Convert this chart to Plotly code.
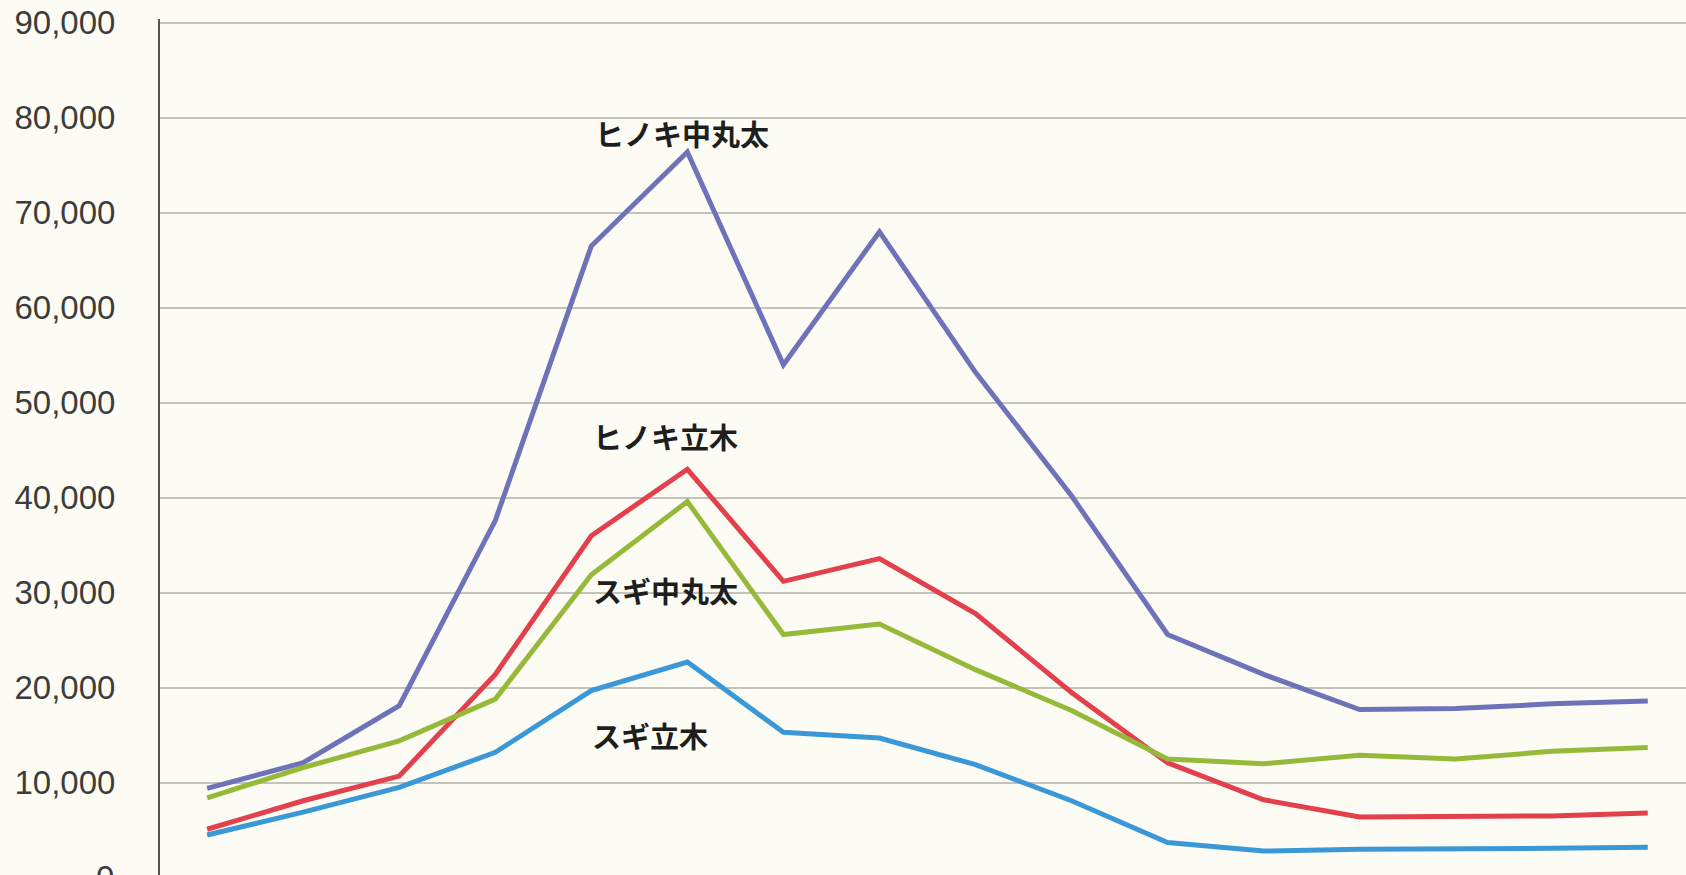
import plotly.graph_objects as go

# category positions (x-axis labels are cropped off in the reference)
periods = list(range(16))

series_names = ["ヒノキ中丸太", "ヒノキ立木", "スギ中丸太", "スギ立木"]

hinoki_maruta = [9400, 12100, 18100, 37600, 66500, 76400, 54000, 68000,
                 53200, 40200, 25600, 21400, 17700, 17800, 18300, 18600]
hinoki_ryuboku = [5100, 8100, 10700, 21400, 36000, 43000, 31200, 33600,
                  27800, 19500, 12100, 8200, 6400, 6400, 6500, 6800]
sugi_maruta = [8400, 11600, 14400, 18800, 31900, 39600, 25600, 26700,
               21900, 17600, 12500, 12000, 12900, 12500, 13300, 13700]
sugi_ryuboku = [4500, 6900, 9500, 13200, 19700, 22700, 15300, 14700,
                11900, 8100, 3700, 2800, 3000, 3000, 3100, 3200]

y_ticks = list(range(10000, 90001, 10000))
Y_MIN, Y_MAX = 284, 90400

colors = ["#6e72b9", "#e2404c", "#97b93a", "#3b98d6"]
values = [hinoki_maruta, hinoki_ryuboku, sugi_maruta, sugi_ryuboku]

fig = go.Figure()
for name, vals, c in zip(series_names, values, colors):
    fig.add_trace(go.Scatter(x=periods, y=vals, mode="lines", name=name,
                             line=dict(color=c, width=5), cliponaxis=False))

# series labels placed next to their lines
label_pos = {
    "ヒノキ中丸太": (4.94, 78450),
    "ヒノキ立木": (4.77, 46480),
    "スギ中丸太": (4.77, 30260),
    "スギ立木": (4.61, 15000),
}
for name in series_names:
    lx, ly = label_pos[name]
    fig.add_annotation(x=lx, y=ly, xref="x", yref="y", text=name, showarrow=False,
                       xanchor="center", yanchor="middle",
                       font=dict(family="Noto Sans CJK JP", size=29, color="#1e1e1e", weight="bold"))

# the "0" tick label, mostly cropped at the bottom edge (placed in paper coords at value 0)
fig.add_annotation(x=-0.0291, y=(0 - Y_MIN) / (Y_MAX - Y_MIN), xref="paper", yref="paper",
                   text="0", showarrow=False, xanchor="right", yanchor="middle",
                   font=dict(family="Liberation Sans", size=33, color="#3c3c3c"))

W, H = 1686, 875
fig.update_layout(
    width=W, height=H,
    margin=dict(l=159.5, r=0, t=18.9, b=0, pad=0),
    paper_bgcolor="#fcfcf4", plot_bgcolor="#fcfcf4",
    showlegend=False,
    xaxis=dict(range=[-0.491, 15.398], showgrid=False, zeroline=False,
               showticklabels=False, showline=False, ticks=""),
    yaxis=dict(range=[Y_MIN, Y_MAX], tickvals=y_ticks, tickformat=",d",
               showgrid=True, gridcolor="#c3c3bb", gridwidth=1.6,
               zeroline=False, showline=True, linecolor="#555555", linewidth=2,
               ticks="", ticklabelstandoff=36,
               tickfont=dict(family="Liberation Sans", size=33, color="#3c3c3c")),
)

fig.write_html("out.html", config={"displayModeBar": False},
               post_script="document.body.style.margin='0';document.body.style.overflow='hidden';")
